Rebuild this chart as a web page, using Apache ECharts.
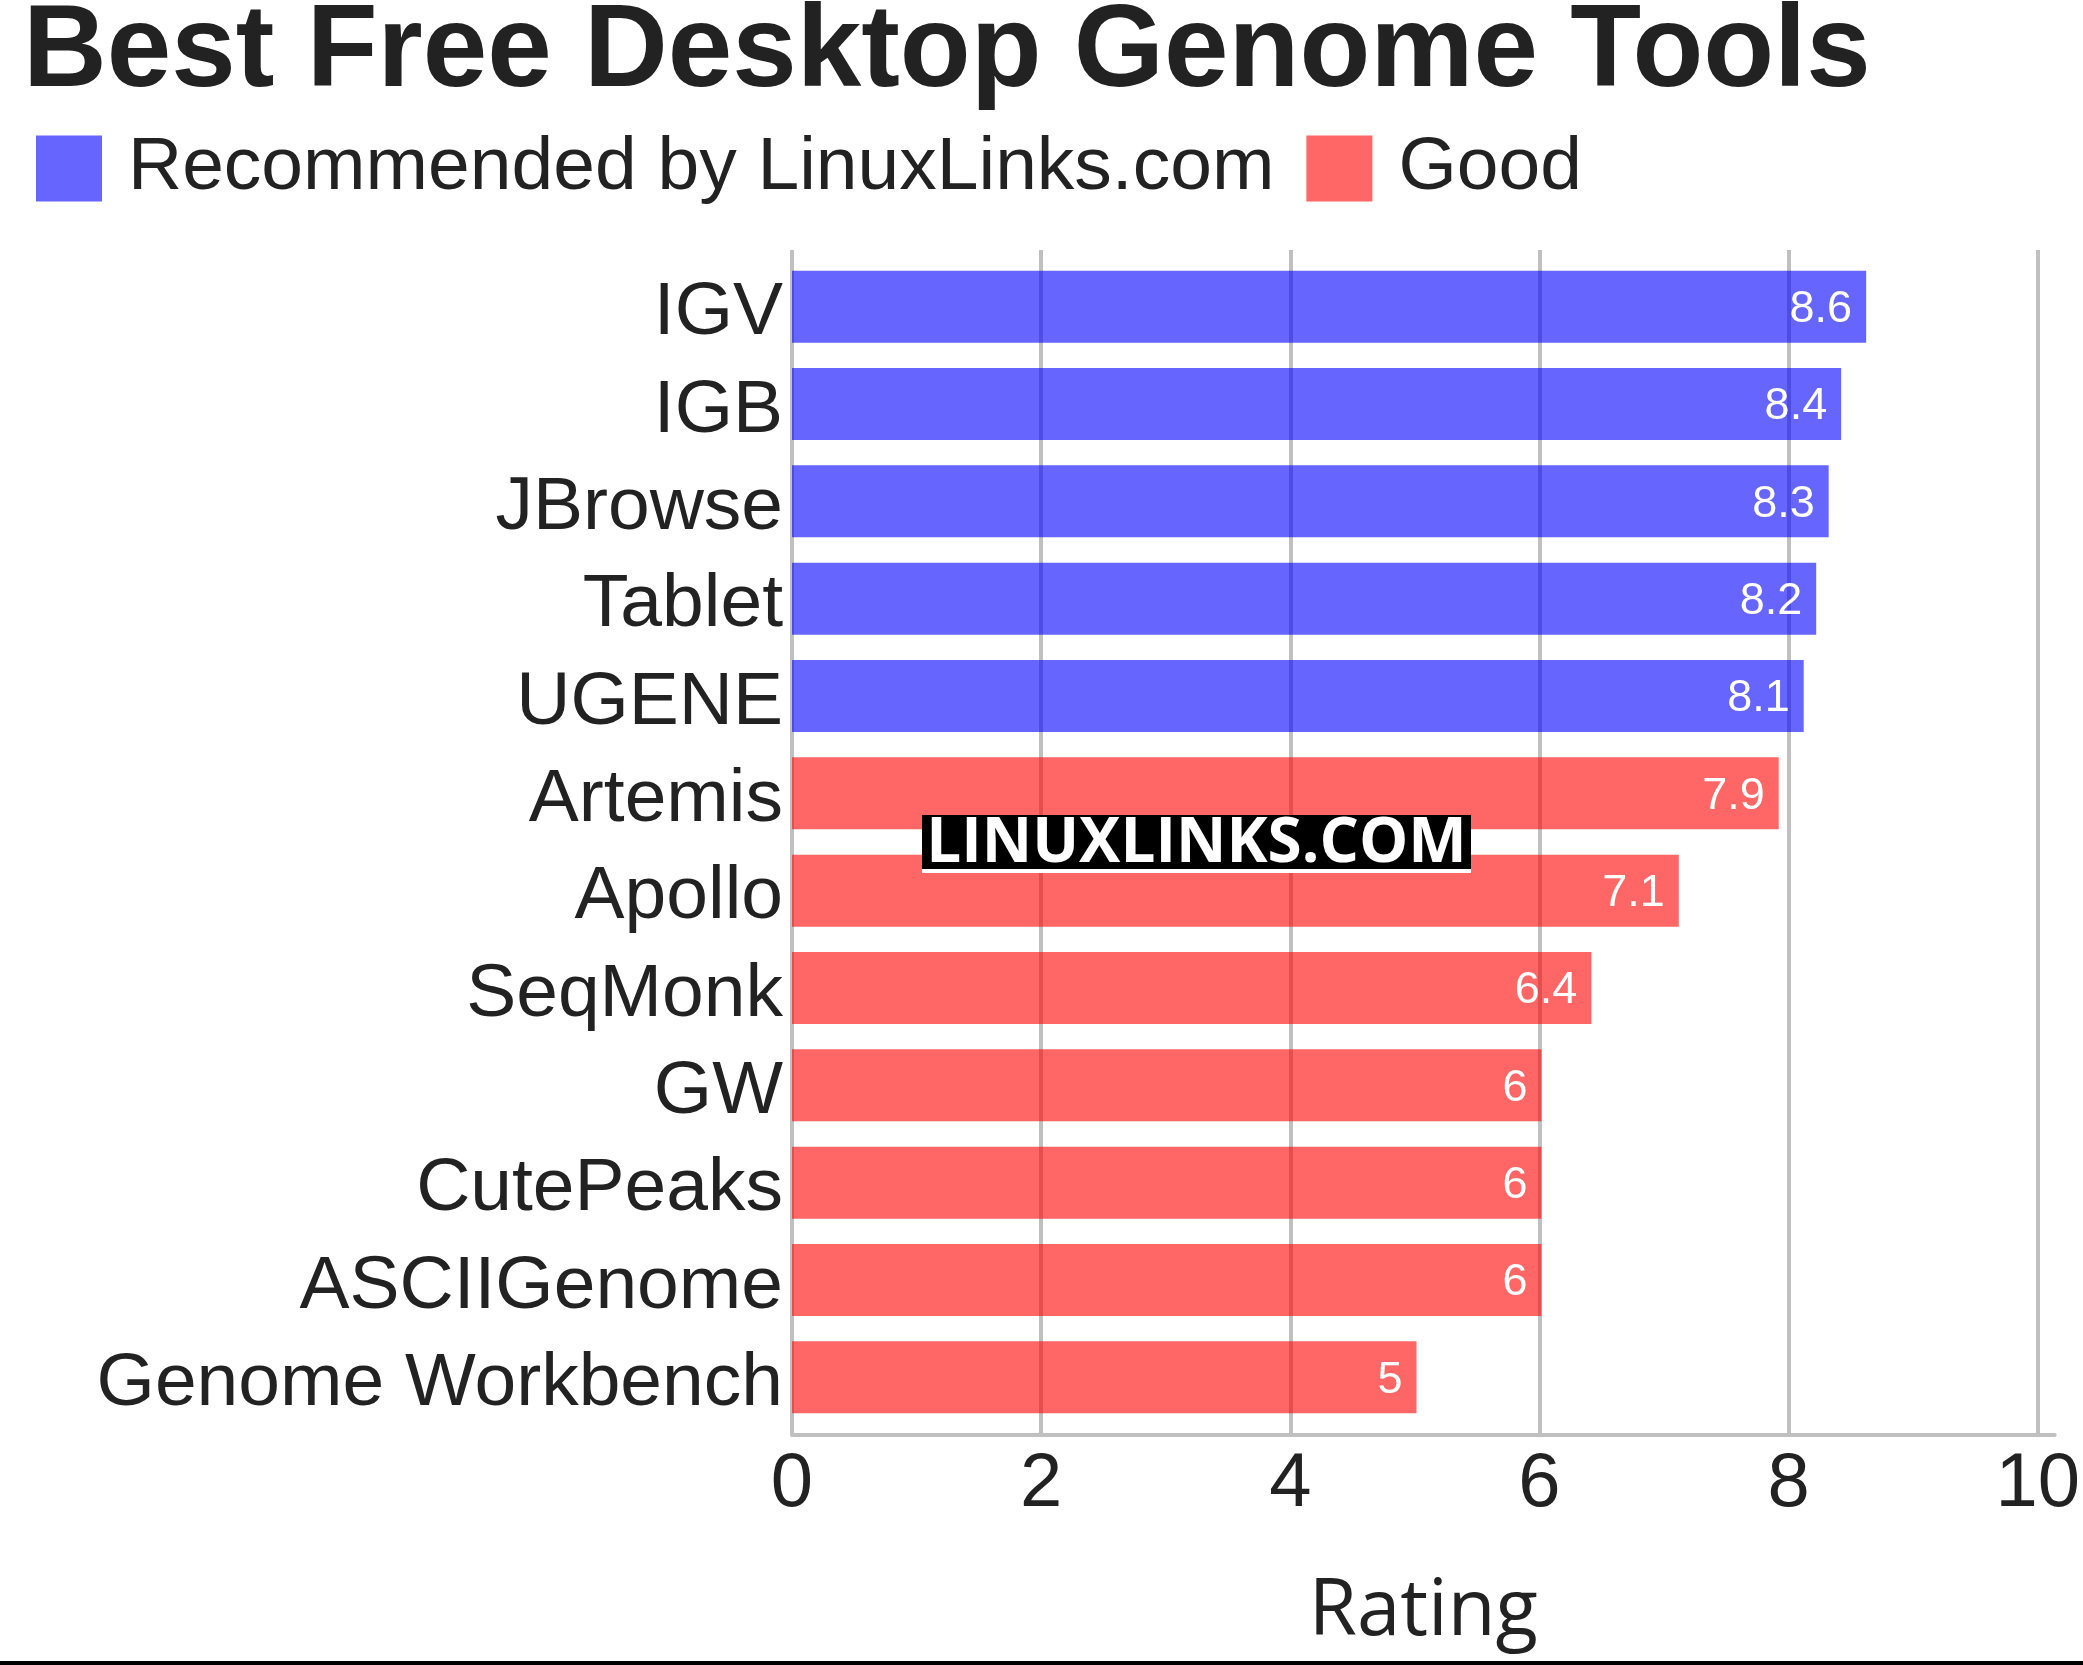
<!DOCTYPE html>
<html>
<head>
<meta charset="utf-8">
<script src="https://cdn.jsdelivr.net/npm/echarts@6/dist/echarts.min.js"></script>
<style>
html,body{margin:0;padding:0;background:#fff;}
#chart{width:2083px;height:1665px;}
</style>
</head>
<body>
<div id="chart"></div>
<script>
const categories = ['IGV','IGB','JBrowse','Tablet','UGENE','Artemis','Apollo','SeqMonk','GW','CutePeaks','ASCIIGenome','Genome Workbench'];
const recommendedValues = [8.6, 8.4, 8.3, 8.2, 8.1, '-', '-', '-', '-', '-', '-', '-'];
const goodValues = ['-', '-', '-', '-', '-', 7.9, 7.1, 6.4, 6, 6, 6, 5];
const seriesNames = ['Recommended by LinuxLinks.com', 'Good'];
const tickValues = [0, 2, 4, 6, 8, 10];

const chart = echarts.init(document.getElementById('chart'), null, {renderer: 'canvas'});
const TXT = '#222222';
const GRIDC = '#c0c0c0';
const XMAX = 10.136;

const barLabel = {
  show: true, position: 'insideRight', distance: 14, color: '#ffffff',
  fontFamily: 'Liberation Sans', fontSize: 45, offset: [0, 3],
  formatter: p => String(p.value)
};

chart.setOption({
  animation: false,
  backgroundColor: '#ffffff',
  title: {
    text: 'Best Free Desktop Genome Tools',
    left: 18, top: -9,
    textStyle: {fontFamily: 'Liberation Sans', fontWeight: 'bold', fontSize: 116, color: TXT}
  },
  legend: {
    left: 31, top: 126,
    itemWidth: 66, itemHeight: 66, itemGap: 32,
    icon: 'rect',
    data: seriesNames,
    textStyle: {fontFamily: 'Liberation Sans', fontSize: 75, color: TXT, padding: [13, 0, 0, 21]}
  },
  grid: [
    {left: 792, right: 25, top: 250, bottom: 230},
    {left: 792, right: 25, top: 258, bottom: 239},
    {left: 792, right: 25, top: 265, bottom: 232}
  ],
  xAxis: [
    {
      type: 'value', gridIndex: 0, min: 0, max: XMAX, interval: 2,
      axisLine: {show: true, lineStyle: {color: GRIDC, width: 4}},
      axisTick: {show: false},
      splitLine: {show: true, showMaxLine: false, lineStyle: {color: GRIDC, width: 4}},
      axisLabel: {
        margin: 12, fontFamily: 'Liberation Sans', fontSize: 76, color: TXT,
        showMaxLabel: true,
        formatter: v => (tickValues.some(t => Math.abs(t - v) < 1e-9) ? String(Math.round(v)) : '')
      },
      name: 'Rating', nameLocation: 'middle', nameGap: 139,
      nameTextStyle: {fontFamily: 'Open Sans', fontSize: 78, color: TXT}
    },
    {type: 'value', gridIndex: 1, min: 0, max: XMAX, show: false},
    {type: 'value', gridIndex: 2, min: 0, max: XMAX, show: false}
  ],
  yAxis: [
    {type: 'category', gridIndex: 0, data: categories, inverse: true, show: false},
    {type: 'category', gridIndex: 1, data: categories, inverse: true, show: false},
    {
      type: 'category', gridIndex: 2, data: categories, inverse: true,
      axisLine: {show: false}, axisTick: {show: false}, splitLine: {show: false},
      axisLabel: {interval: 0, margin: 9, fontFamily: 'Liberation Sans', fontSize: 75, color: TXT}
    }
  ],
  series: [
    {
      name: seriesNames[0], type: 'bar', xAxisIndex: 1, yAxisIndex: 1, stack: 'all',
      data: recommendedValues, barWidth: 72,
      itemStyle: {color: 'rgba(0,0,255,0.6)'},
      label: barLabel
    },
    {
      name: seriesNames[1], type: 'bar', xAxisIndex: 1, yAxisIndex: 1, stack: 'all',
      data: goodValues, barWidth: 72,
      itemStyle: {color: 'rgba(255,0,0,0.6)'},
      label: barLabel
    }
  ],
  graphic: [
    {
      type: 'group', left: 922, top: 813, z: 100,
      children: [
        {type: 'rect', z: 100, shape: {x: 0, y: 0, width: 549, height: 58}, style: {fill: '#ffffff'}},
        {type: 'rect', z: 101, shape: {x: 0, y: 0, width: 549, height: 54}, style: {fill: '#000000'}},
        {type: 'text', z: 102, x: 274.5, y: 29,
          style: {text: 'LINUXLINKS.COM', fill: '#ffffff', fontFamily: 'Open Sans', fontWeight: 'bold', fontSize: 62, align: 'center', verticalAlign: 'middle'}}
      ]
    },
    {type: 'rect', z: 100, left: 0, top: 1661, shape: {width: 2083, height: 4}, style: {fill: '#000000'}}
  ]
});
</script>
</body>
</html>
